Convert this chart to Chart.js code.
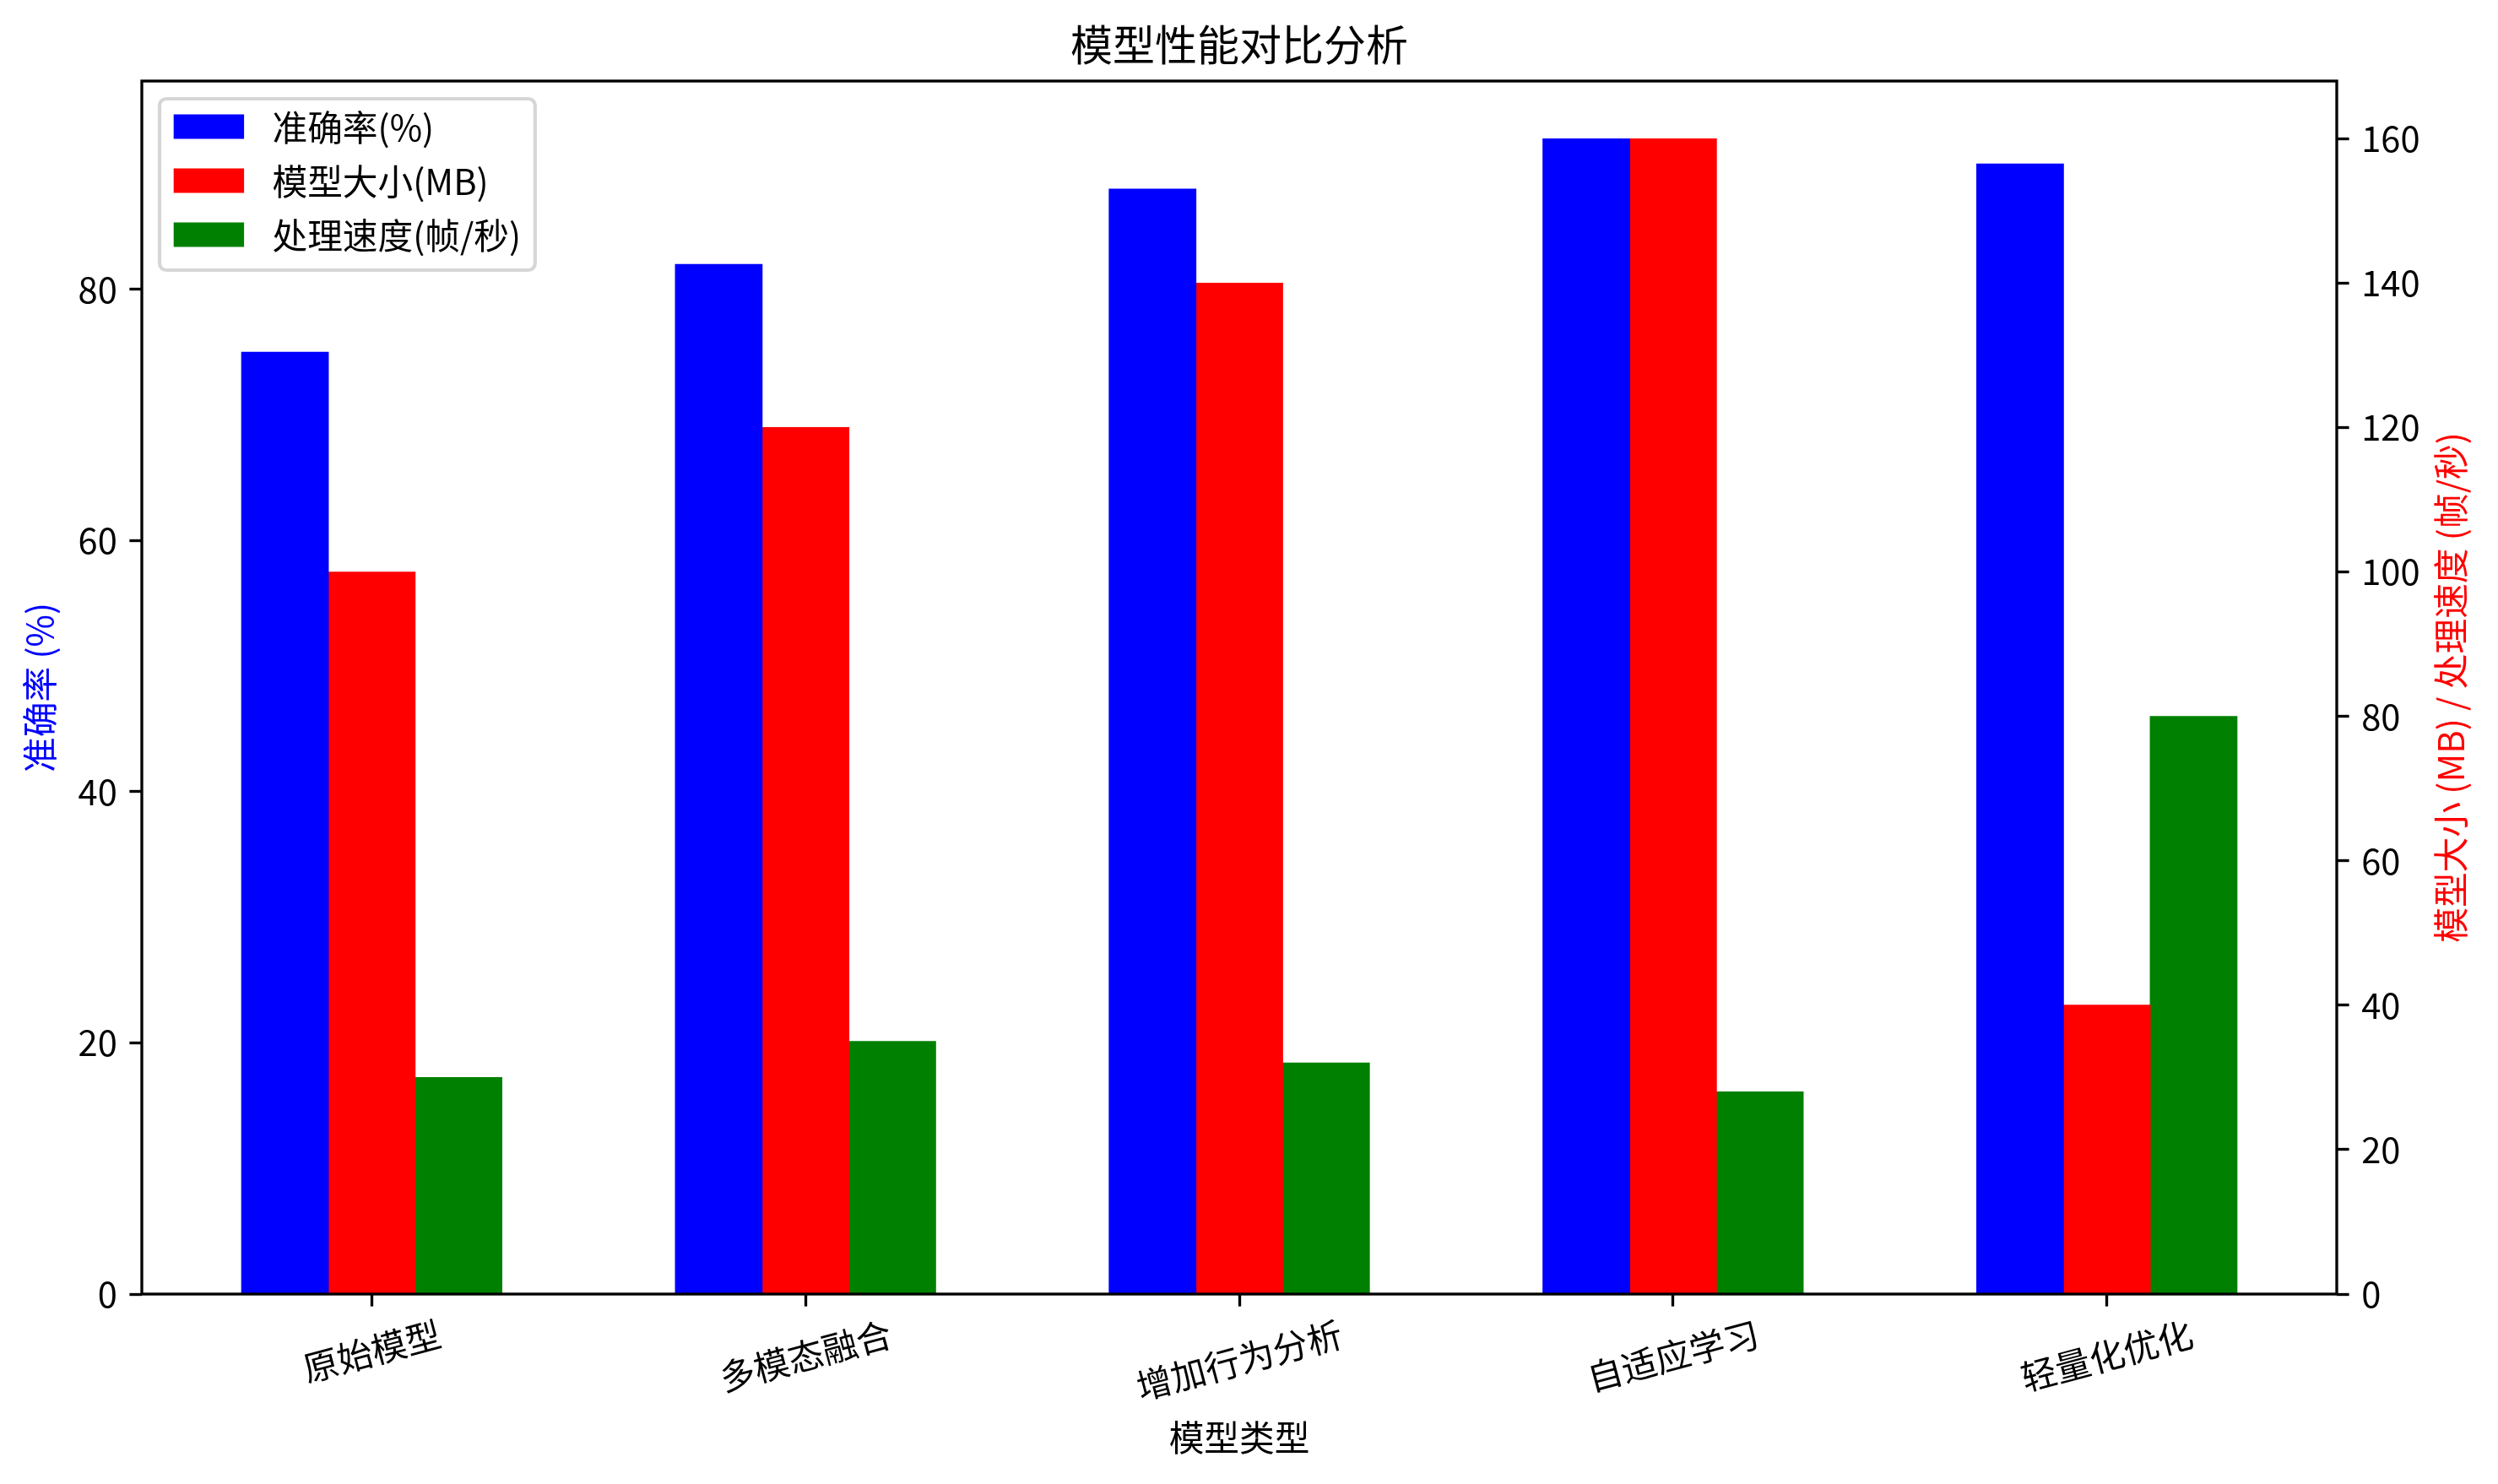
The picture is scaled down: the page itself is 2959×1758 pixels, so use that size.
<!DOCTYPE html>
<html>
<head>
<meta charset="utf-8">
<title>模型性能对比分析</title>
<script src="https://cdn.jsdelivr.net/npm/chart.js@4.4.1/dist/chart.umd.min.js"></script>
<style>
  html, body { margin: 0; padding: 0; background: #fff; }
  canvas { display: block; }
</style>
</head>
<body>
<canvas id="perfChart" width="2959" height="1758"></canvas>
<script>
const categories = ['原始模型', '多模态融合', '增加行为分析', '自适应学习', '轻量化优化'];
const accuracy = [75, 82, 88, 92, 90];
const modelSize = [100, 120, 140, 160, 40];
const speed = [30, 35, 32, 28, 80];
const leftTicks = [0, 20, 40, 60, 80];
const rightTicks = [0, 20, 40, 60, 80, 100, 120, 140, 160];

const FONT = '"Noto Sans CJK SC", "Noto Sans", sans-serif';
const fs = 41.7;   // 10pt at 300 dpi
const lw = 3.33;   // 0.8pt spines / ticks

Chart.defaults.font.family = FONT;
Chart.defaults.color = '#000';

function points(values) {
    return values.map((v, i) => ({ x: i, y: v }));
}

// matplotlib style x margins: bars span -0.3 .. n-1+0.3, plus 5%
const span = categories.length - 1 + 0.6;
const xMin = -0.3 - 0.05 * span;
const xMax = categories.length - 1 + 0.3 + 0.05 * span;

const tickGrid = {
    display: true,
    drawOnChartArea: false,
    drawTicks: true,
    tickLength: 14.6,
    tickWidth: lw,
    tickColor: '#000',
    offset: false
};

// frame, right axis title, rotated x labels and legend
const decorations = {
    id: 'decorations',
    afterDatasetsDraw(chart) {
        const { ctx, chartArea: a } = chart;
        ctx.save();
        ctx.strokeStyle = '#000';
        ctx.lineWidth = lw;
        ctx.strokeRect(a.left, a.top, a.right - a.left, a.bottom - a.top);
        ctx.restore();
    },
    afterDraw(chart) {
        const { ctx, chartArea: a } = chart;
        const xs = chart.scales.x;

        // x tick labels, rotated 15deg and centred on the tick
        const ang = 15 * Math.PI / 180;
        ctx.save();
        ctx.font = fs + 'px ' + FONT;
        ctx.fillStyle = '#000';
        ctx.textAlign = 'center';
        ctx.textBaseline = 'middle';
        categories.forEach((c, i) => {
            const w = ctx.measureText(c).width;
            const bh = w * Math.sin(ang) + fs * 1.2 * Math.cos(ang);
            ctx.save();
            ctx.translate(xs.getPixelForValue(i), a.bottom + 22 + bh / 2);
            ctx.rotate(-ang);
            ctx.fillText(c, 0, 0);
            ctx.restore();
        });
        ctx.restore();

        // right axis title, reading bottom to top
        const r = chart.scales.y1;
        ctx.save();
        ctx.font = fs + 'px ' + FONT;
        ctx.fillStyle = 'red';
        ctx.textAlign = 'center';
        ctx.textBaseline = 'middle';
        ctx.translate(r.right - 56, (a.top + a.bottom) / 2);
        ctx.rotate(-Math.PI / 2);
        ctx.fillText('模型大小 (MB) / 处理速度 (帧/秒)', 0, 0);
        ctx.restore();

        // legend, upper left
        const sets = chart.data.datasets;
        ctx.save();
        ctx.font = fs + 'px ' + FONT;
        let maxW = 0;
        sets.forEach(d => { maxW = Math.max(maxW, ctx.measureText(d.label).width); });
        const bx = a.left + 21, by = a.top + 21;
        const bw = 16.7 + 83.4 + 33.4 + maxW + 16.7;
        const bh = 203;
        const rad = 8;
        ctx.beginPath();
        ctx.moveTo(bx + rad, by);
        ctx.arcTo(bx + bw, by, bx + bw, by + bh, rad);
        ctx.arcTo(bx + bw, by + bh, bx, by + bh, rad);
        ctx.arcTo(bx, by + bh, bx, by, rad);
        ctx.arcTo(bx, by, bx + bw, by, rad);
        ctx.closePath();
        ctx.fillStyle = 'rgba(255,255,255,0.8)';
        ctx.fill();
        ctx.strokeStyle = 'rgba(204,204,204,0.8)';
        ctx.lineWidth = 4.17;
        ctx.stroke();
        ctx.textAlign = 'left';
        ctx.textBaseline = 'middle';
        sets.forEach((d, i) => {
            const cy = by + 33 + i * 64;
            ctx.fillStyle = d.backgroundColor;
            ctx.fillRect(bx + 16.7, cy - 14.5, 83.4, 29);
            ctx.fillStyle = '#000';
            ctx.fillText(d.label, bx + 16.7 + 83.4 + 33.4, cy + 1);
        });
        ctx.restore();
    }
};

new Chart(document.getElementById('perfChart'), {
    type: 'bar',
    data: {
        datasets: [{
            label: '准确率(%)',
            data: points(accuracy),
            backgroundColor: 'blue',
            borderWidth: 0,
            yAxisID: 'y'
        }, {
            label: '模型大小(MB)',
            data: points(modelSize),
            backgroundColor: 'red',
            borderWidth: 0,
            yAxisID: 'y1'
        }, {
            label: '处理速度(帧/秒)',
            data: points(speed),
            backgroundColor: 'green',
            borderWidth: 0,
            yAxisID: 'y1'
        }]
    },
    options: {
        responsive: false,
        devicePixelRatio: 1,
        animation: false,
        layout: { padding: 0 },
        datasets: {
            bar: { categoryPercentage: 0.6, barPercentage: 1.0, inflateAmount: 0.5 }
        },
        plugins: {
            legend: { display: false },
            tooltip: { enabled: false },
            title: {
                display: true,
                fullSize: false,   // centre over the plot area like matplotlib
                text: '模型性能对比分析',
                color: '#000',
                font: { size: 50, weight: 'normal' },
                padding: { top: 23, bottom: 13 }
            }
        },
        scales: {
            x: {
                type: 'linear',
                min: xMin,
                max: xMax,
                offset: false,
                grid: tickGrid,
                border: { display: false },
                ticks: { display: false },
                title: {
                    display: true,
                    text: '模型类型',
                    font: { size: fs },
                    padding: { top: 0, bottom: 30 }
                },
                afterBuildTicks: s => { s.ticks = categories.map((c, i) => ({ value: i })); },
                afterFit: s => { s.height = 225; }
            },
            y: {
                position: 'left',
                min: 0,
                max: Math.max(...accuracy) * 1.05,
                grid: tickGrid,
                border: { display: false },
                ticks: { font: { size: fs }, padding: 14.6 },
                title: {
                    display: true,
                    text: '准确率 (%)',
                    color: 'blue',
                    font: { size: fs },
                    padding: { top: 22, bottom: 0 }
                },
                afterBuildTicks: s => { s.ticks = leftTicks.map(v => ({ value: v })); },
                afterFit: s => { s.width = 168; }
            },
            y1: {
                position: 'right',
                min: 0,
                max: Math.max(...modelSize, ...speed) * 1.05,
                grid: tickGrid,
                border: { display: false },
                ticks: { font: { size: fs }, padding: 14.6 },
                afterBuildTicks: s => { s.ticks = rightTicks.map(v => ({ value: v })); },
                afterFit: s => { s.width = 191; }
            }
        }
    },
    plugins: [decorations]
});
</script>
</body>
</html>
